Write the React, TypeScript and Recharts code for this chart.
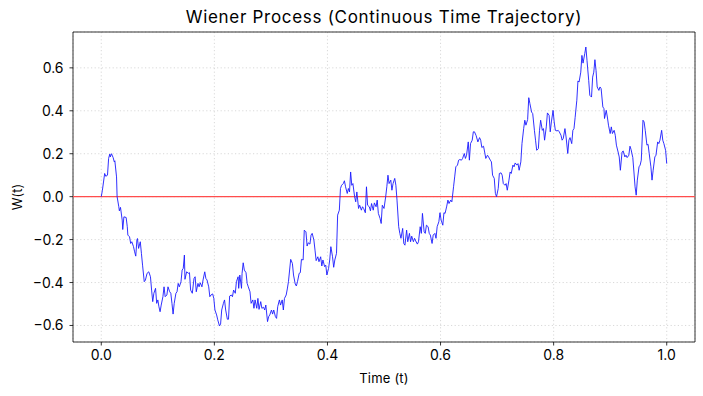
import React from 'react';
import { LineChart, Line, XAxis, YAxis, CartesianGrid, ReferenceLine, ReferenceArea } from 'recharts';

const times = [
  0.000, 0.002, 0.006, 0.008, 0.011, 0.013, 0.015, 0.016, 0.018, 0.021, 0.023, 0.024, 0.027, 0.028, 0.031, 0.032, 0.034, 0.037, 0.038, 0.040,
  0.044, 0.046, 0.047, 0.050, 0.052, 0.054, 0.057, 0.059, 0.061, 0.063, 0.064, 0.066, 0.069, 0.071, 0.073, 0.076, 0.078, 0.081, 0.084, 0.087,
  0.089, 0.091, 0.093, 0.096, 0.098, 0.100, 0.102, 0.104, 0.106, 0.109, 0.111, 0.113, 0.116, 0.118, 0.121, 0.123, 0.125, 0.127, 0.129, 0.132,
  0.134, 0.136, 0.138, 0.141, 0.143, 0.145, 0.147, 0.148, 0.151, 0.154, 0.156, 0.158, 0.161, 0.164, 0.166, 0.168, 0.171, 0.173, 0.175, 0.178,
  0.180, 0.183, 0.185, 0.187, 0.190, 0.192, 0.194, 0.197, 0.199, 0.201, 0.204, 0.206, 0.209, 0.211, 0.213, 0.216, 0.218, 0.220, 0.223, 0.225,
  0.227, 0.230, 0.232, 0.234, 0.237, 0.239, 0.242, 0.243, 0.245, 0.248, 0.249, 0.251, 0.253, 0.256, 0.258, 0.260, 0.263, 0.265, 0.268, 0.270,
  0.272, 0.275, 0.277, 0.279, 0.282, 0.284, 0.287, 0.289, 0.291, 0.294, 0.296, 0.298, 0.301, 0.303, 0.305, 0.308, 0.310, 0.312, 0.315, 0.317,
  0.320, 0.322, 0.324, 0.327, 0.329, 0.331, 0.335, 0.338, 0.340, 0.343, 0.345, 0.347, 0.350, 0.352, 0.354, 0.357, 0.359, 0.362, 0.364, 0.366,
  0.369, 0.371, 0.373, 0.376, 0.378, 0.380, 0.383, 0.385, 0.388, 0.390, 0.392, 0.395, 0.397, 0.399, 0.402, 0.404, 0.406, 0.409, 0.411, 0.413,
  0.416, 0.418, 0.421, 0.423, 0.425, 0.428, 0.430, 0.432, 0.435, 0.437, 0.439, 0.441, 0.443, 0.445, 0.448, 0.450, 0.452, 0.455, 0.457, 0.460,
  0.462, 0.464, 0.467, 0.469, 0.471, 0.474, 0.476, 0.478, 0.481, 0.483, 0.486, 0.488, 0.490, 0.493, 0.495, 0.497, 0.500, 0.503, 0.505, 0.507,
  0.509, 0.512, 0.514, 0.516, 0.519, 0.521, 0.523, 0.526, 0.528, 0.530, 0.533, 0.535, 0.537, 0.540, 0.542, 0.545, 0.547, 0.549, 0.552, 0.554,
  0.556, 0.559, 0.561, 0.564, 0.566, 0.568, 0.571, 0.573, 0.575, 0.578, 0.580, 0.582, 0.585, 0.587, 0.590, 0.592, 0.594, 0.597, 0.599, 0.601,
  0.604, 0.606, 0.608, 0.611, 0.613, 0.615, 0.618, 0.620, 0.623, 0.625, 0.627, 0.630, 0.632, 0.634, 0.637, 0.639, 0.642, 0.644, 0.646, 0.649,
  0.651, 0.653, 0.656, 0.658, 0.660, 0.663, 0.666, 0.669, 0.671, 0.673, 0.676, 0.678, 0.680, 0.683, 0.685, 0.688, 0.690, 0.692, 0.695, 0.697,
  0.699, 0.702, 0.704, 0.707, 0.709, 0.711, 0.714, 0.716, 0.718, 0.721, 0.723, 0.725, 0.728, 0.730, 0.732, 0.735, 0.737, 0.739, 0.742, 0.744,
  0.747, 0.749, 0.751, 0.754, 0.756, 0.758, 0.761, 0.763, 0.766, 0.768, 0.770, 0.773, 0.775, 0.777, 0.780, 0.782, 0.784, 0.787, 0.789, 0.792,
  0.794, 0.796, 0.799, 0.801, 0.803, 0.806, 0.808, 0.810, 0.813, 0.815, 0.817, 0.820, 0.822, 0.825, 0.827, 0.829, 0.832, 0.834, 0.836, 0.838,
  0.841, 0.843, 0.845, 0.848, 0.850, 0.852, 0.855, 0.857, 0.859, 0.862, 0.864, 0.867, 0.869, 0.871, 0.873, 0.875, 0.877, 0.880, 0.882, 0.884,
  0.887, 0.889, 0.890, 0.893, 0.895, 0.897, 0.900, 0.902, 0.904, 0.907, 0.909, 0.911, 0.914, 0.916, 0.918, 0.921, 0.923, 0.926, 0.928, 0.930,
  0.933, 0.935, 0.937, 0.940, 0.942, 0.944, 0.946, 0.948, 0.951, 0.953, 0.955, 0.958, 0.960, 0.962, 0.965, 0.967, 0.969, 0.972, 0.974, 0.976,
  0.979, 0.981, 0.984, 0.986, 0.988, 0.991, 0.993, 0.995, 0.998, 1.000,
];

const values = [
  0.000, 0.030, 0.108, 0.095, 0.100, 0.178, 0.198, 0.185, 0.200, 0.182, 0.162, 0.167, 0.092, 0.000, -0.047, -0.066, -0.050, -0.109, -0.153, -0.094,
  -0.097, -0.140, -0.179, -0.187, -0.218, -0.210, -0.233, -0.257, -0.277, -0.202, -0.195, -0.241, -0.210, -0.264, -0.319, -0.396, -0.389, -0.357, -0.350, -0.373,
  -0.435, -0.489, -0.450, -0.427, -0.497, -0.481, -0.513, -0.536, -0.505, -0.466, -0.420, -0.466, -0.458, -0.420, -0.443, -0.450, -0.497, -0.547, -0.497, -0.450,
  -0.443, -0.404, -0.420, -0.396, -0.342, -0.334, -0.272, -0.385, -0.350, -0.357, -0.354, -0.435, -0.450, -0.381, -0.373, -0.443, -0.404, -0.420, -0.401, -0.420,
  -0.388, -0.350, -0.381, -0.388, -0.420, -0.466, -0.458, -0.453, -0.474, -0.528, -0.551, -0.574, -0.602, -0.593, -0.528, -0.497, -0.481, -0.528, -0.571, -0.571,
  -0.463, -0.458, -0.466, -0.435, -0.450, -0.396, -0.373, -0.427, -0.365, -0.427, -0.357, -0.308, -0.342, -0.354, -0.404, -0.420, -0.443, -0.497, -0.481, -0.520,
  -0.481, -0.520, -0.474, -0.525, -0.489, -0.520, -0.515, -0.528, -0.505, -0.582, -0.559, -0.551, -0.528, -0.547, -0.528, -0.559, -0.567, -0.513, -0.481, -0.505,
  -0.481, -0.528, -0.474, -0.458, -0.430, -0.396, -0.292, -0.311, -0.365, -0.407, -0.416, -0.396, -0.357, -0.354, -0.292, -0.295, -0.156, -0.164, -0.230, -0.215,
  -0.221, -0.179, -0.171, -0.202, -0.249, -0.298, -0.280, -0.303, -0.280, -0.323, -0.295, -0.326, -0.319, -0.365, -0.334, -0.295, -0.233, -0.280, -0.329, -0.295,
  -0.264, -0.086, -0.063, 0.038, 0.053, 0.061, 0.074, 0.046, 0.015, 0.038, 0.022, 0.115, 0.053, 0.061, 0.000, -0.024, 0.022, -0.055, -0.040, -0.063,
  -0.047, -0.055, -0.075, 0.046, -0.040, -0.047, -0.066, -0.032, -0.063, -0.029, -0.047, -0.016, -0.078, -0.101, -0.125, -0.040, -0.055, 0.000, 0.046, 0.100,
  0.061, 0.077, 0.030, 0.061, 0.085, 0.053, -0.016, -0.140, -0.171, -0.194, -0.148, -0.218, -0.226, -0.156, -0.210, -0.171, -0.210, -0.184, -0.210, -0.194,
  -0.206, -0.221, -0.210, -0.140, -0.171, -0.078, -0.164, -0.171, -0.133, -0.140, -0.171, -0.179, -0.218, -0.179, -0.171, -0.194, -0.140, -0.117, -0.075, -0.109,
  -0.133, -0.075, -0.078, -0.044, -0.016, -0.032, -0.016, -0.024, 0.046, 0.092, 0.139, 0.147, 0.170, 0.173, 0.170, 0.178, 0.201, 0.178, 0.193, 0.255,
  0.170, 0.247, 0.263, 0.302, 0.302, 0.284, 0.255, 0.275, 0.263, 0.229, 0.235, 0.208, 0.178, 0.193, 0.185, 0.170, 0.162, 0.100, 0.085, 0.015,
  0.000, 0.038, 0.108, 0.111, 0.100, 0.061, 0.053, 0.061, 0.030, 0.077, 0.115, 0.108, 0.147, 0.139, 0.157, 0.147, 0.154, 0.123, 0.162, 0.247,
  0.317, 0.356, 0.333, 0.359, 0.461, 0.434, 0.394, 0.387, 0.309, 0.263, 0.216, 0.224, 0.309, 0.356, 0.309, 0.317, 0.263, 0.325, 0.390, 0.379,
  0.302, 0.348, 0.402, 0.348, 0.309, 0.306, 0.309, 0.302, 0.286, 0.263, 0.271, 0.317, 0.278, 0.201, 0.263, 0.275, 0.247, 0.309, 0.317, 0.368,
  0.449, 0.539, 0.534, 0.580, 0.658, 0.622, 0.666, 0.697, 0.635, 0.542, 0.472, 0.464, 0.557, 0.580, 0.638, 0.588, 0.511, 0.495, 0.511, 0.503,
  0.418, 0.410, 0.364, 0.402, 0.371, 0.333, 0.294, 0.325, 0.294, 0.309, 0.286, 0.240, 0.208, 0.185, 0.123, 0.208, 0.213, 0.185, 0.193, 0.182,
  0.193, 0.235, 0.219, 0.182, 0.115, 0.046, 0.007, 0.077, 0.139, 0.147, 0.170, 0.356, 0.348, 0.309, 0.240, 0.244, 0.201, 0.139, 0.077, 0.123,
  0.185, 0.193, 0.255, 0.247, 0.263, 0.309, 0.263, 0.247, 0.216, 0.154,
];

const xTicks = [0, 0.2, 0.4, 0.6, 0.8, 1.0];
const yTicks = [-0.6, -0.4, -0.2, 0, 0.2, 0.4, 0.6];

const data = times.map((t, i) => ({ t, w: values[i] }));

const FONT = 'Inter, "Open Sans", sans-serif';

const fmt = (v: number) => (v < 0 ? '\u2212' : '') + Math.abs(v).toFixed(1);

export default function App() {
  return (
    <div style={{ position: 'absolute', left: 0, top: 0, width: 703, height: 396, background: '#fff', fontFamily: FONT }}>
      <div style={{ position: 'absolute', left: 73, width: 622, top: 7, textAlign: 'center', fontSize: 17, letterSpacing: 0.7, color: '#000', lineHeight: '20px' }}>
        Wiener Process (Continuous Time Trajectory)
      </div>
      <div style={{ position: 'absolute', left: 73, width: 622, top: 370, textAlign: 'center', fontSize: 13, letterSpacing: 0.2, color: '#000', lineHeight: '16px' }}>
        Time (t)
      </div>
      <div style={{ position: 'absolute', left: 17, top: 197, width: 0, height: 0 }}>
        <div style={{ position: 'absolute', left: -40, top: -8, width: 80, textAlign: 'center', fontSize: 13, lineHeight: '16px', color: '#000', transform: 'rotate(-90deg)' }}>
          W(t)
        </div>
      </div>
      <LineChart width={703} height={396} data={data} margin={{ top: 32, right: 8, bottom: 0, left: 0 }}>
        <CartesianGrid stroke="#cfcfcf" strokeDasharray="1.2 2.4" strokeWidth={0.8} />
        <XAxis
          dataKey="t"
          type="number"
          domain={[-0.05, 1.05]}
          ticks={xTicks}
          height={54}
          tickSize={3.5}
          tickMargin={5}
          axisLine={false}
          tickLine={{ stroke: '#000', strokeWidth: 0.8 }}
          tick={{ fill: '#000', fontSize: 14, fontFamily: FONT }}
          tickFormatter={fmt}
          allowDataOverflow
        />
        <YAxis
          type="number"
          domain={[-0.677, 0.767]}
          ticks={yTicks}
          width={73}
          tickSize={3.5}
          tickMargin={6}
          axisLine={false}
          tickLine={{ stroke: '#000', strokeWidth: 0.8 }}
          tick={{ fill: '#000', fontSize: 14, fontFamily: FONT }}
          tickFormatter={fmt}
          allowDataOverflow
        />
        <ReferenceLine y={0} stroke="#ff4d4d" strokeWidth={1.2} />
        <Line dataKey="w" type="linear" stroke="#1a1aff" strokeWidth={0.9} dot={false} isAnimationActive={false} />
        <ReferenceArea x1={-0.05} x2={1.05} y1={-0.677} y2={0.767} fill="none" stroke="#000" strokeWidth={0.8} fillOpacity={0} />
      </LineChart>
    </div>
  );
}
